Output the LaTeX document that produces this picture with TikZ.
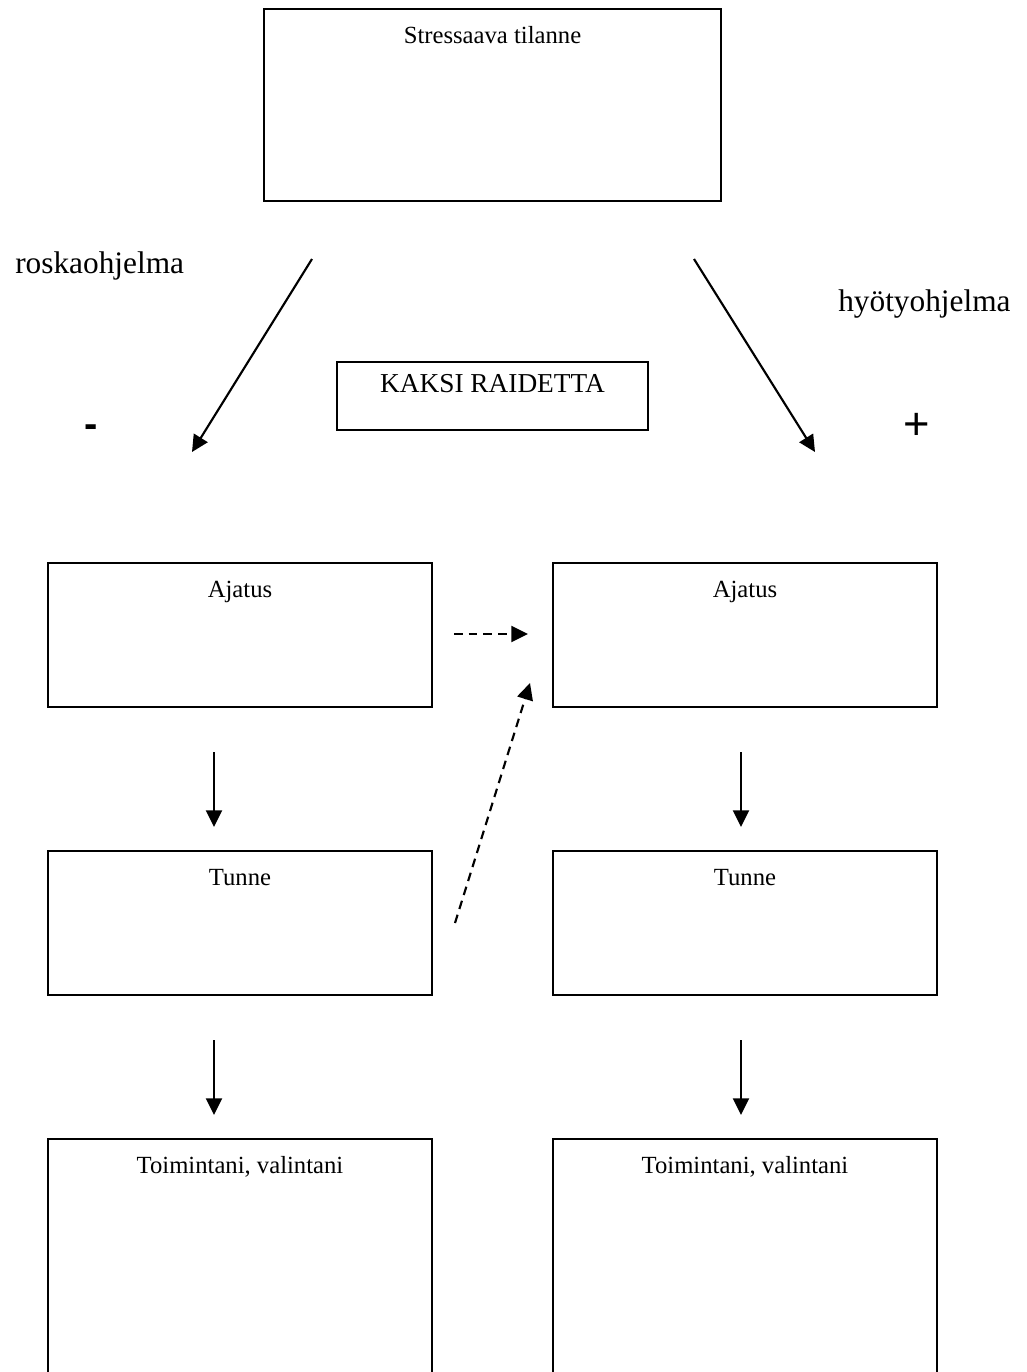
\documentclass[tikz,border=0pt]{standalone}
\usepackage{fontspec}
\setmainfont{Liberation Serif}
\newfontfamily\signfont{Liberation Sans}
\usetikzlibrary{arrows.meta,calc}

\begin{document}
\begin{tikzpicture}[x=0.75pt,y=-0.75pt,
  box/.style={draw, line width=1.5pt, anchor=north west, inner sep=0pt},
  colbox/.style={box, minimum width=288pt, minimum height=108pt},
  boxtext/.style={anchor=base, inner sep=0pt, font=\fontsize{18.5}{21}\selectfont},
  sidetext/.style={anchor=base west, inner sep=0pt, font=\fontsize{23.5}{27}\selectfont},
  sign/.style={inner sep=0pt, font=\signfont\fontsize{32}{36}\selectfont},
  flow/.style={line width=1.6pt, -{Triangle[length=12.5pt,width=12pt]}},
  maybe/.style={flow, dash pattern=on 6.5pt off 4.5pt}
]
\useasboundingbox (0,0) rectangle (1026,1372);
\clip (0,0) rectangle (1026,1372);

% top situation box and the two-track label
\node[box, minimum width=342.75pt, minimum height=144pt] (situ) at (263,8) {};
\node[boxtext] (situtxt) at ($(situ.north)+(0,35)$) {Stressaava tilanne};
\node[box, minimum width=233.25pt, minimum height=51pt] (tracks) at (336,361) {};
\node[boxtext, font=\fontsize{20.5}{23}\selectfont] (trackstxt) at ($(tracks.north)+(0,31)$) {KAKSI RAIDETTA};

% side labels
\node[sidetext] (neglbl) at (15,273) {roskaohjelma};
\node[sidetext] (poslbl) at (838,311) {hyötyohjelma};
\node[sign, font=\signfont\bfseries\fontsize{30}{34}\selectfont] (minus) at (91,431) {-};
\node[sign, font=\signfont\fontsize{34}{38}\selectfont] (plus) at (917,426) {+};

% left column
\node[colbox] (lthought) at (47,562) {};
\node[boxtext] (lthoughttxt) at ($(lthought.north)+(0,35)$) {Ajatus};
\node[colbox] (lfeel) at (47,850) {};
\node[boxtext] (lfeeltxt) at ($(lfeel.north)+(0,35)$) {Tunne};
\node[box, minimum width=288pt, minimum height=225pt] (lact) at (47,1138) {};
\node[boxtext] (lacttxt) at ($(lact.north)+(0,35)$) {Toimintani, valintani};

% right column
\node[colbox] (rthought) at (552,562) {};
\node[boxtext] (rthoughttxt) at ($(rthought.north)+(0,35)$) {Ajatus};
\node[colbox] (rfeel) at (552,850) {};
\node[boxtext] (rfeeltxt) at ($(rfeel.north)+(0,35)$) {Tunne};
\node[box, minimum width=288pt, minimum height=225pt] (ract) at (552,1138) {};
\node[boxtext] (racttxt) at ($(ract.north)+(0,35)$) {Toimintani, valintani};

% free arrow ends
\coordinate (negstart) at (312,259);
\coordinate (negend) at (192,452);
\coordinate (posstart) at (694,259);
\coordinate (posend) at (815,452);
\coordinate (la1) at (214,752);  \coordinate (la2) at (214,827);
\coordinate (lb1) at (214,1040); \coordinate (lb2) at (214,1115);
\coordinate (ra1) at (741,752);  \coordinate (ra2) at (741,827);
\coordinate (rb1) at (741,1040); \coordinate (rb2) at (741,1115);
\coordinate (sw1) at (454,634);  \coordinate (sw2) at (528,634);
\coordinate (sf1) at (455,923);  \coordinate (sf2) at (530,683);

% connectors
\draw[flow] (negstart) -- (negend);
\draw[flow] (posstart) -- (posend);
\draw[flow] (la1) -- (la2);
\draw[flow] (lb1) -- (lb2);
\draw[flow] (ra1) -- (ra2);
\draw[flow] (rb1) -- (rb2);
\draw[maybe] (sw1) -- (sw2);
\draw[maybe] (sf1) -- (sf2);
\end{tikzpicture}
\end{document}
